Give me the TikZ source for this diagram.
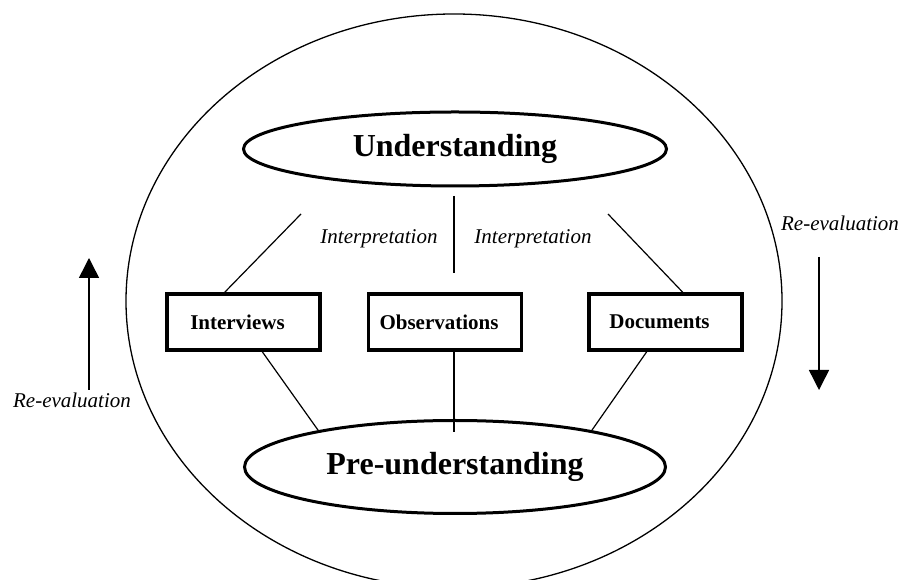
\documentclass[tikz,border=0pt]{standalone}
\usepackage{fontspec}
\setmainfont{Liberation Serif}
\usetikzlibrary{arrows.meta,shapes.geometric,positioning,calc}

\begin{document}
\begin{tikzpicture}[x=1pt, y=1pt, on grid,
                    stage/.style={ellipse, draw, line width=3pt, inner sep=0pt,
                                  font=\fontsize{32}{36}\selectfont\bfseries},
                    method/.style={rectangle, draw, line width=3.5pt,
                                   minimum width=153pt, minimum height=56pt, inner sep=0pt,
                                   font=\fontsize{21}{24}\selectfont\bfseries,
                                   execute at begin node=\hspace*{-12pt}},
                    note/.style={font=\fontsize{21}{24}\selectfont\itshape, inner sep=0pt},
                    link/.style={line width=1.2pt},
                    flow/.style={line width=1.5pt, -{Triangle[width=20pt,length=20pt]}}]
    \useasboundingbox (0,0) rectangle (901,580);

   % outer circle
   \draw[line width=1.3pt] (454,279) ellipse [x radius=328, y radius=287];

   \node[stage, minimum width=423pt, minimum height=74pt] (under) at (455,431) {Understanding};
   \node[stage, minimum width=421pt, minimum height=93pt] (pre) at (455,113) {Pre-understanding};

   \node[method] (obs) at (445,258) {Observations};
   \node[method] (intv) [left=201.5pt of obs] {Interviews};
   \node[method] (docs) [right=220.5pt of obs] {Documents};

   \node[note] (interpL) at (379,341) {Interpretation};
   \node[note] (interpR) at (533,341) {Interpretation};
   \node[note] (revalL) at (72,180) {Re-evaluation};
   \node[note] (revalR) at (840,357) {Re-evaluation};

   % free ends of the lines
   \coordinate (topL) at (301,366);
   \coordinate (topR) at (608,366);
   \coordinate (midTop) at (454,384);
   \coordinate (midLow) at (454,307);
   \coordinate (midEnd) at (454,148);
   \coordinate (upFrom) at (89,190);
   \coordinate (upTo) at (89,322);
   \coordinate (downFrom) at (819,323);
   \coordinate (downTo) at (819,190);

   % Define connections
   \draw[link] ($(intv.north west)!0.38!(intv.north east)$) -- (topL);
   \draw[link] ($(docs.north west)!0.61!(docs.north east)$) -- (topR);
   \draw[link] (midTop) -- (midLow);
   \draw[link] ($(intv.south west)!0.62!(intv.south east)$) -- (pre.165);
   \draw[link] ($(docs.south west)!0.38!(docs.south east)$) -- (pre.15);
   \draw[link] (obs.south -| midEnd) -- (midEnd);

   \draw[flow] (upFrom) -- (upTo);
   \draw[flow] (downFrom) -- (downTo);

\end{tikzpicture}
\end{document}
